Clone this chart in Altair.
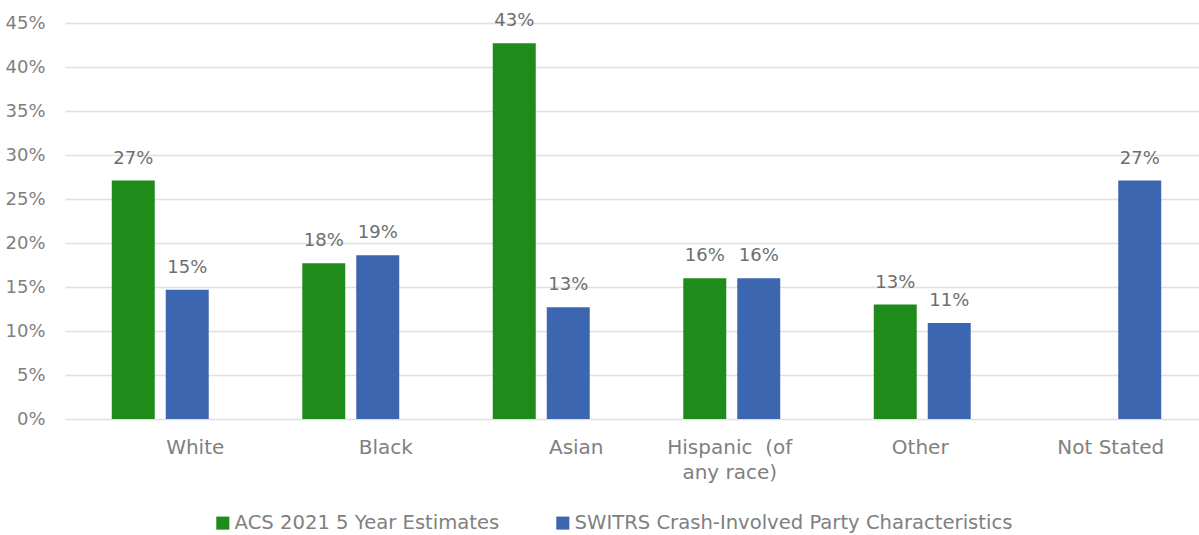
import altair as alt
import pandas as pd

categories = ["White", "Black", "Asian", "Hispanic (of any race)", "Other", "Not Stated"]
series = ["ACS 2021 5 Year Estimates", "SWITRS Crash-Involved Party Characteristics"]
acs_values = [27.1, 17.7, 42.7, 16.0, 13.0, None]
switrs_values = [14.7, 18.6, 12.7, 16.0, 10.9, 27.1]
y_ticks = [0, 5, 10, 15, 20, 25, 30, 35, 40, 45]

rows = []
for c, a, s in zip(categories, acs_values, switrs_values):
    rows.append({"category": c, "series": series[0], "value": a})
    rows.append({"category": c, "series": series[1], "value": s})
df = pd.DataFrame(rows)

FONT = "DejaVu Sans"
AXIS_GRAY = "#808080"
GREEN = "#1f8b1b"
BLUE = "#3d66b0"

x_enc = alt.X(
    "category:N",
    sort=categories,
    scale=alt.Scale(range=[0, 1143], paddingInner=0.491, paddingOuter=0.2455),
    axis=alt.Axis(
        title=None,
        domain=False,
        ticks=False,
        labelAngle=0,
        labelFont=FONT,
        labelFontSize=20,
        labelColor=AXIS_GRAY,
        labelPadding=18,
        labelLineHeight=25,
        labelLimit=0,
        labelExpr="datum.value == 'Hispanic (of any race)' ? ['Hispanic\u00a0\u00a0(of', 'any race)'] : datum.value",
        labelOffset={
            "condition": {"test": "indexof(['White','Black','Asian'], datum.value) >= 0", "value": 35},
            "value": -2,
        },
    ),
)
xoff_enc = alt.XOffset("series:N", sort=series, scale=alt.Scale(paddingInner=0.2037, paddingOuter=0))
y_enc = alt.Y(
    "value:Q",
    scale=alt.Scale(domain=[0, 45], nice=False),
    axis=alt.Axis(
        title=None,
        values=y_ticks,
        labelExpr="datum.value + '%'",
        domain=False,
        ticks=False,
        grid=True,
        gridColor="#e0e0e0",
        gridWidth=1.5,
        labelFont=FONT,
        labelFontSize=18,
        labelColor=AXIS_GRAY,
        labelPadding=20,
    ),
)

base = alt.Chart(df).transform_filter("isValid(datum.value)")

bars = base.mark_bar().encode(
    x=x_enc,
    xOffset=xoff_enc,
    y=y_enc,
    color=alt.Color(
        "series:N",
        sort=series,
        scale=alt.Scale(domain=series, range=[GREEN, BLUE]),
        legend=alt.Legend(
            title=None,
            orient="none",
            direction="horizontal",
            legendX=148,
            legendY=490,
            symbolType="square",
            symbolSize=170,
            symbolStrokeWidth=0,
            labelFont=FONT,
            labelFontSize=19.6,
            labelColor=AXIS_GRAY,
            labelLimit=0,
            columnPadding=53,
            labelOffset=2,
        ),
    ),
)

labels = base.transform_calculate(
    label="round(datum.value) + '%'"
).mark_text(baseline="bottom", dy=-13, font=FONT, fontSize=18, color="#6e6e6e").encode(
    x=alt.X("category:N", sort=categories),
    xOffset=alt.XOffset("series:N", sort=series),
    y=alt.Y("value:Q"),
    text="label:N",
)

chart = (
    alt.layer(bars, labels)
    .properties(
        width=1134,
        height=396,
        padding={"left": 65, "top": 23, "right": 0, "bottom": 116},
        autosize="none",
        background="white",
    )
    .configure_view(stroke=None)
)

chart.save("out.html", embed_options={"renderer": "svg", "actions": False})
